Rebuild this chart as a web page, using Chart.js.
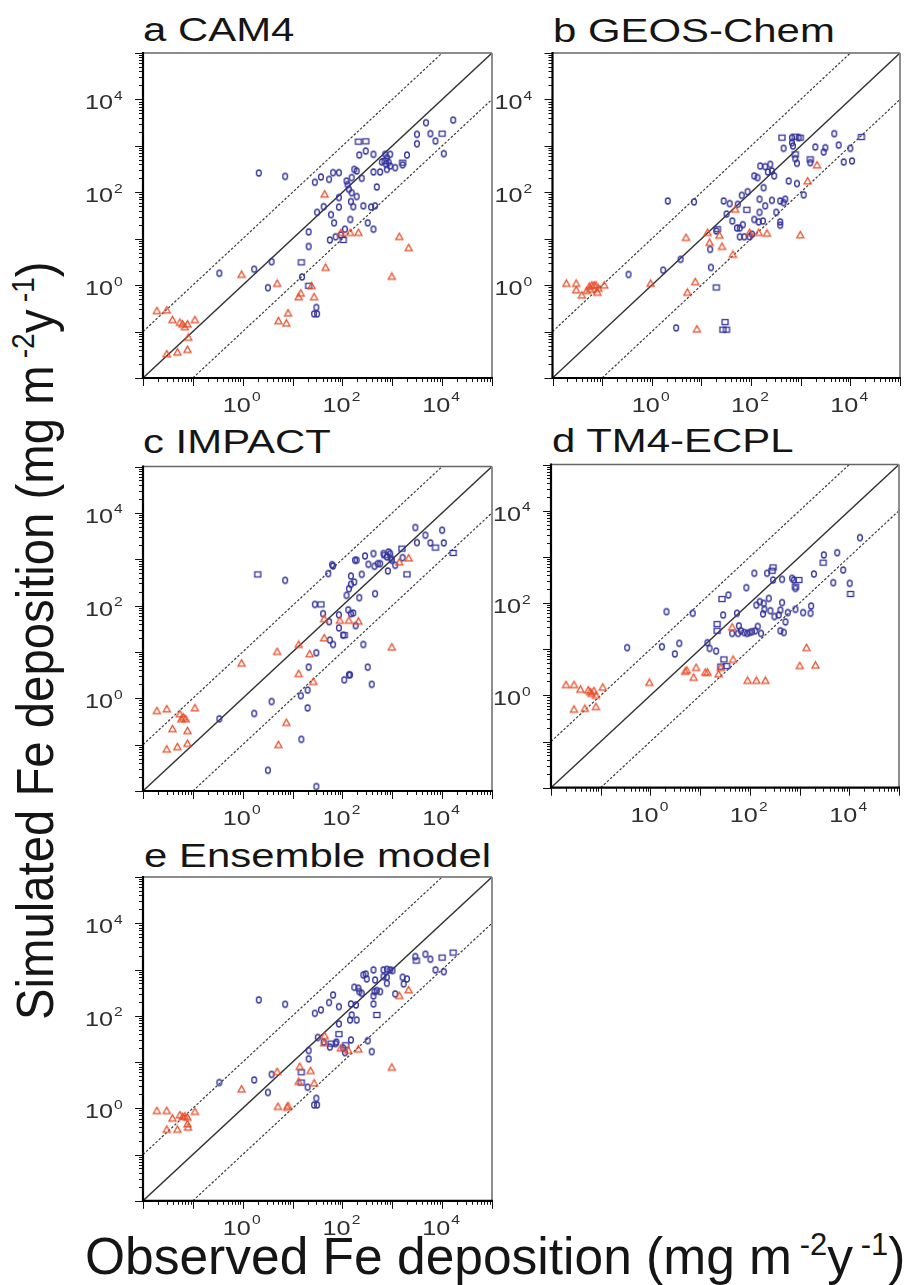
<!DOCTYPE html>
<html>
<head>
<meta charset="utf-8">
<script src="https://cdn.jsdelivr.net/npm/chart.js@4/dist/chart.umd.min.js"></script>
<style>
  html,body{margin:0;padding:0;background:#fff;}
  body{position:relative;width:909px;height:1285px;overflow:hidden;font-family:"Liberation Sans",Arial,sans-serif;color:#151515;}
  canvas{position:absolute;}
  .ttl{position:absolute;font-size:33px;line-height:1;white-space:nowrap;transform-origin:0 0;transform:scaleX(1.27);}
  .big{position:absolute;left:0;top:0;line-height:1;white-space:nowrap;transform-origin:0 0;}
  .big sup{font-size:0.6em;vertical-align:baseline;position:relative;top:-0.6em;margin-left:0.25em;}
</style>
</head>
<body>
<div class="ttl" style="left:143px;top:13px">a CAM4</div>
<div class="ttl" style="left:553px;top:14px">b GEOS-Chem</div>
<div class="ttl" style="left:143px;top:425px">c IMPACT</div>
<div class="ttl" style="left:552px;top:424px">d TM4-ECPL</div>
<div class="ttl" style="left:144px;top:839px">e Ensemble model</div>
<div class="big" id="xlab" style="font-size:51.5px;transform:translate(85px,1231px)">Observed Fe deposition (mg m<sup>-2</sup>y<sup>-1</sup>)</div>
<div class="big" id="ylab" style="font-size:47.3px;transform:translate(9px,1020px) scaleX(1.1) rotate(-90deg)">Simulated Fe deposition (mg m<sup>-2</sup>y<sup>-1</sup>)</div>

<script>
// ---------------- data: [observed, simulated] (mg m-2 y-1) ----------------
const camRed = [[0.019,0.28],[0.030,0.29],[0.039,0.18],[0.055,0.157],[0.062,0.145],[0.069,0.127],[0.078,0.145],[0.11,0.18],[0.081,0.075],[0.030,0.033],[0.049,0.036],[0.078,0.041],[0.95,1.7],[4.9,1.09],[5.2,0.171],[7.5,0.152],[8.1,0.25],[13.3,0.56],[14.6,0.67],[24,0.97],[27,0.56],[44,91],[46,2.4],[93,13.6],[142,13.6],[209,13.6],[980,1.54],[1380,11.1],[2130,6.4]];
const camCirc = [[2.1,260],[7.1,220],[0.34,1.8],[1.7,2.2],[3.8,3.2],[3.2,0.88],[15.5,1.5],[21,14],[21,6.8],[27,0.24],[31,0.24],[30,0.33],[28,164],[37,214],[54,190],[65,265],[85,265],[31,37],[42,49],[59,33],[68,22],[85,48],[85,77],[56,9.4],[73,11],[93,12],[112,16],[144,26],[148,63],[165,49],[153,98],[121,175],[153,207],[173,312],[193,288],[244,200],[193,81],[263,51],[376,48],[419,16],[322,22],[452,51],[489,130],[419,274],[571,274],[778,312],[754,400],[908,368],[1145,339],[1610,390],[1970,635],[908,657],[720,657],[778,557],[616,449],[419,657],[293,774],[218,635],[3130,1110],[3130,1770],[4750,3150],[5820,1830],[7340,1270],[10800,680],[16700,3590],[127,146],[135,116],[843,440]];
const camSq = [[209,1230],[293,1250],[10000,1830],[1610,435],[720,472],[104,9.4],[21,0.97],[15,3.1]];

const geosRed = [[0.019,1.09],[0.030,1.09],[0.030,0.79],[0.039,0.61],[0.049,0.76],[0.055,0.94],[0.062,1.0],[0.069,1.0],[0.075,1.0],[0.080,0.70],[0.084,0.85],[0.11,1.0],[0.057,0.82],[0.95,1.09],[4.9,10.6],[7.5,1.18],[5.2,0.70],[8.1,0.113],[13.3,13.6],[14.6,8.3],[23,11.9],[26,6.8],[43,4.6],[48,43],[93,13.6],[142,13.6],[209,13.1],[980,12.1],[1380,175],[2130,387]];
const geosCirc = [[0.34,1.7],[1.7,2.1],[3.8,3.6],[2.1,65],[7.1,62],[15,5.9],[15.5,2.4],[3.1,0.12],[20,14.7],[28,65],[37,57],[54,55],[65,86],[85,103],[32,34],[42,24],[59,17],[68,20],[59,11],[73,11],[93,11],[104,12.5],[116,26],[148,37],[142,23],[173,24],[148,71],[193,51],[263,67],[387,65],[452,60],[322,37],[387,23],[387,19.5],[571,175],[840,154],[1145,88],[116,225],[135,207],[153,368],[193,356],[244,400],[263,288],[218,274],[293,225],[179,126],[452,884],[666,1170],[698,990],[908,1500],[840,421],[778,530],[1560,435],[1970,944],[2900,737],[3130,913],[4750,1830],[5820,1040],[7340,449],[10000,884],[10800,472],[666,1500],[489,71],[52,17]];
const geosSq = [[419,1500],[778,1575],[981,1500],[778,657],[1560,512],[16700,1550],[20,0.89],[27,0.11],[32,0.11],[30,0.16],[82,42],[21,16]];

const impactRed = [[0.019,0.54],[0.030,0.59],[0.039,0.22],[0.049,0.090],[0.030,0.080],[0.055,0.46],[0.059,0.36],[0.065,0.39],[0.072,0.36],[0.078,0.20],[0.078,0.106],[0.11,0.62],[0.95,5.7],[4.9,10.2],[5.2,0.10],[7.5,0.30],[13.3,14.5],[13.3,3.4],[22,9.1],[26,2.3],[43,52],[43,20],[89,48],[135,48],[209,46],[980,12.7],[1380,870],[2130,1060]];
const impactCirc = [[0.34,0.36],[1.7,0.47],[3.8,0.85],[7.1,350],[3.2,0.028],[15,0.13],[14.6,1.14],[20,1.5],[20,0.62],[21,4.7],[30,9.6],[30,0.0125],[28,106],[41,67],[52,490],[65,715],[54,45],[56,18],[65,14.5],[85,33],[85,63],[104,23],[131,81],[148,67],[165,69],[184,37],[142,3.2],[109,2.5],[135,3.2],[322,4.7],[387,2.0],[263,14.5],[452,180],[121,166],[135,231],[148,287],[173,322],[148,434],[193,950],[218,148],[244,472],[179,950],[284,1175],[332,776],[419,1320],[439,703],[512,803],[571,803],[666,1320],[778,1120],[840,1435],[908,1320],[951,1030],[815,557],[981,948],[1145,739],[1610,1080],[2900,4820],[3130,2280],[4610,3290],[5820,2245],[10000,4220],[10800,2245],[62,764]];
const impactSq = [[2.0,470],[1560,1690],[1970,472],[7340,1780],[16700,1365],[720,1215],[109,23],[37,106]];

const tm4Red = [[0.020,1.7],[0.029,1.7],[0.039,1.35],[0.056,1.3],[0.061,1.2],[0.066,1.1],[0.073,1.26],[0.080,1.0],[0.080,0.57],[0.11,1.5],[0.029,0.50],[0.048,0.52],[0.95,1.9],[5.0,3.3],[5.4,3.5],[8.3,4.0],[7.4,2.45],[12.7,3.15],[14.1,3.15],[23.5,2.9],[26,4.0],[44,30],[46,6.0],[90,2.1],[135,2.1],[205,2.1],[1010,4.4],[1380,10.8],[2090,4.5]];
const tm4Circ = [[0.34,10.8],[1.7,11.3],[3.8,13.4],[3.1,7.9],[2.1,65],[7.1,60],[14,13.8],[15.5,10.4],[21,9.1],[29,55],[37,149],[55,60],[60,32],[44,22],[58,22],[66,25],[77,23],[88,22],[99,23],[111,24],[129,25],[144,31],[168,22],[85,215],[123,440],[222,440],[135,90],[158,107],[190,98],[196,73],[184,58],[240,126],[259,68],[312,51],[381,55],[412,70],[445,102],[520,39],[579,62],[412,25],[481,23],[708,342],[766,315],[827,207],[827,73],[1180,62],[1660,60],[1710,86],[1940,425],[3080,1100],[4760,276],[5720,1230],[7560,518],[10200,267],[16400,2600],[293,315],[445,326]];
const tm4Sq = [[27.5,122],[22,35],[22,25],[280,500],[293,590],[827,226],[966,315],[2990,748],[10600,157],[30,6.0],[34,4.3],[26,4.2]];

const ensRed = [[0.019,0.89],[0.030,0.89],[0.039,0.61],[0.049,0.35],[0.030,0.35],[0.055,0.72],[0.062,0.66],[0.069,0.68],[0.078,0.64],[0.078,0.46],[0.080,0.39],[0.11,0.85],[0.95,2.6],[4.9,6.2],[5.1,1.09],[7.8,1.05],[8.1,1.14],[13.9,8.0],[13.3,3.8],[23,6.5],[27,3.5],[44,37],[43,26],[93,20],[131,18],[209,19],[980,7.7],[1380,273],[2130,362]];
const ensCirc = [[0.34,3.6],[1.7,4.1],[3.8,5.4],[3.2,2.2],[2.1,220],[7.1,177],[20,2.85],[21,17.7],[21,11.7],[27,1.18],[31,1.18],[30,1.64],[28,113],[37,134],[54,193],[65,282],[85,158],[32,34],[42,27],[56,21],[73,25],[76,27],[85,67],[104,20],[112,16],[148,30],[142,81],[148,180],[153,104],[187,171],[193,81],[173,413],[209,394],[263,764],[293,802],[218,333],[244,306],[307,626],[419,980],[452,595],[419,180],[439,333],[489,350],[571,333],[419,268],[322,29],[387,16.8],[666,980],[778,1010],[908,980],[1010,948],[778,680],[666,703],[1145,297],[1610,680],[1690,488],[1970,626],[2900,1900],[4610,2140],[5820,1670],[7340,980],[10800,900],[778,504]];
const ensSq = [[85,40],[489,104],[3040,1560],[10000,1810],[16700,2320],[15,6.0],[15,3.6],[59,25],[116,23]];

// reference lines (1:1 and factor of 10)
const oneToOneObs = [1e-2, 1e5], oneToOneSim = [1e-2, 1e5];
const upperObs = [1e-2, 1e4],   upperSim = [1e-1, 1e5];
const lowerObs = [1e-1, 1e5],   lowerSim = [1e-2, 1e4];

// axis
const axisMin = 1e-2, axisMax = 1e5;
const tickValues = [1, 100, 10000];
const tickBase = ['10', '10', '10'];
const tickExp = ['0', '2', '4'];
const decades = [-2, -1, 0, 1, 2, 3, 4, 5];

// ---------------- layout / style ----------------
const BLUE = '#34349a', RED = '#e84e2a';
const FONT = '"Liberation Sans", Arial, sans-serif';
const BOXES = {
  a: [143, 53, 492, 378],
  b: [552.5, 53, 900, 378],
  c: [143, 466.5, 492, 791],
  d: [551, 464.5, 899, 787.7],
  e: [143, 877, 492, 1200.8]
};

function mk(w, h, draw) { const c = document.createElement('canvas'); c.width = w; c.height = h; draw(c.getContext('2d')); return c; }
const circImg = mk(10, 12, g => { g.strokeStyle = BLUE; g.lineWidth = 1.35; g.beginPath(); g.ellipse(5, 6, 2.4, 3.0, 0, 0, Math.PI * 2); g.stroke(); });
const sqImg = mk(10, 10, g => { g.strokeStyle = BLUE; g.lineWidth = 1.3; g.strokeRect(2, 2.5, 6, 5); });
const triImg = mk(11, 10, g => { g.strokeStyle = RED; g.lineWidth = 1.3; g.beginPath(); g.moveTo(5.5, 1.6); g.lineTo(9, 7.8); g.lineTo(2, 7.8); g.closePath(); g.stroke(); });

const pairs = arr => arr.map(([x, y]) => ({ x, y }));
const zip = (xs, ys) => xs.map((x, i) => ({ x, y: ys[i] }));

const axesPlugin = {
  id: 'axesPlugin',
  afterDatasetsDraw(chart) {
    const { ctx, chartArea: A, scales: { x, y } } = chart;
    ctx.save();
    // top and right frame
    ctx.strokeStyle = '#666'; ctx.lineWidth = 1.5;
    ctx.beginPath(); ctx.moveTo(A.left, A.top); ctx.lineTo(A.right, A.top); ctx.stroke();
    ctx.strokeStyle = '#8e8e8e'; ctx.lineWidth = 2;
    ctx.beginPath(); ctx.moveTo(A.right, A.top); ctx.lineTo(A.right, A.bottom); ctx.stroke();
    // ticks
    ctx.strokeStyle = '#111'; ctx.lineWidth = 1;
    ctx.beginPath();
    for (const e of decades) {
      for (let k = 1; k < 10; k++) {
        const v = k * Math.pow(10, e);
        if (v > axisMax * 1.0001) continue;
        const len = k === 1 ? 8 : 4;
        const py = Math.round(y.getPixelForValue(v)) + 0.5;
        ctx.moveTo(A.left, py); ctx.lineTo(A.left - len, py);
        const px = Math.round(x.getPixelForValue(v)) + 0.5;
        ctx.moveTo(px, A.bottom); ctx.lineTo(px, A.bottom + len);
      }
    }
    ctx.stroke();
    // left & bottom axis lines
    ctx.strokeStyle = '#000'; ctx.lineWidth = 2.2;
    ctx.beginPath(); ctx.moveTo(A.left, A.top - 1); ctx.lineTo(A.left, A.bottom); ctx.lineTo(A.right + 1, A.bottom); ctx.stroke();
    // tick labels
    ctx.fillStyle = '#2e2e2e';
    const sx = 1.2;
    tickValues.forEach((v, i) => {
      // y axis
      const py = y.getPixelForValue(v);
      ctx.save(); ctx.translate(A.left - 30, py + 10); ctx.scale(sx, 1);
      ctx.font = '21px ' + FONT; ctx.textAlign = 'right'; ctx.textBaseline = 'alphabetic';
      ctx.fillText(tickBase[i], 0, 0); ctx.restore();
      ctx.save(); ctx.translate(A.left - 29, py + 0.5); ctx.scale(sx, 1);
      ctx.font = '13px ' + FONT; ctx.textAlign = 'left';
      ctx.fillText(tickExp[i], 0, 0); ctx.restore();
      // x axis
      const px = x.getPixelForValue(v);
      ctx.save(); ctx.translate(px - 20, A.bottom + 34); ctx.scale(sx, 1);
      ctx.font = '21px ' + FONT; ctx.textAlign = 'left';
      ctx.fillText(tickBase[i], 0, 0);
      const w = ctx.measureText(tickBase[i]).width;
      ctx.font = '13px ' + FONT;
      ctx.fillText(tickExp[i], w + 1, -11);
      ctx.restore();
    });
    ctx.restore();
  }
};

function panel(key, red, circ, sq) {
  const [l, t, r, b] = BOXES[key];
  const cx = Math.floor(l - 70), cy = Math.floor(t - 8);
  const cw = Math.ceil(r + 8) - cx, ch = Math.ceil(b + 48) - cy;
  const cv = document.createElement('canvas');
  cv.width = cw; cv.height = ch;
  cv.style.left = cx + 'px'; cv.style.top = cy + 'px';
  cv.style.width = cw + 'px'; cv.style.height = ch + 'px';
  document.body.appendChild(cv);
  new Chart(cv, {
    type: 'scatter',
    data: {
      datasets: [
        { label: 'red', data: pairs(red), pointStyle: triImg, pointRadius: 3 },
        { label: 'squares', data: pairs(sq), pointStyle: sqImg, pointRadius: 3 },
        { label: 'circles', data: pairs(circ), pointStyle: circImg, pointRadius: 3 },
        { label: '1:1', data: zip(oneToOneObs, oneToOneSim), showLine: true, pointRadius: 0, borderColor: '#333', borderWidth: 1.4 },
        { label: 'x10', data: zip(upperObs, upperSim), showLine: true, pointRadius: 0, borderColor: '#3c3c3c', borderWidth: 1.2, borderDash: [2.5, 1.8] },
        { label: '/10', data: zip(lowerObs, lowerSim), showLine: true, pointRadius: 0, borderColor: '#3c3c3c', borderWidth: 1.2, borderDash: [2.5, 1.8] }
      ]
    },
    options: {
      responsive: false, animation: false, devicePixelRatio: 1, events: [],
      layout: { padding: { left: l - cx, top: t - cy, right: cx + cw - r, bottom: cy + ch - b } },
      scales: {
        x: { type: 'logarithmic', min: axisMin, max: axisMax, display: false },
        y: { type: 'logarithmic', min: axisMin, max: axisMax, display: false }
      },
      plugins: { legend: { display: false }, tooltip: { enabled: false }, title: { display: false } }
    },
    plugins: [axesPlugin]
  });
}

panel('a', camRed, camCirc, camSq);
panel('b', geosRed, geosCirc, geosSq);
panel('c', impactRed, impactCirc, impactSq);
panel('d', tm4Red, tm4Circ, tm4Sq);
panel('e', ensRed, ensCirc, ensSq);
</script>
</body>
</html>
